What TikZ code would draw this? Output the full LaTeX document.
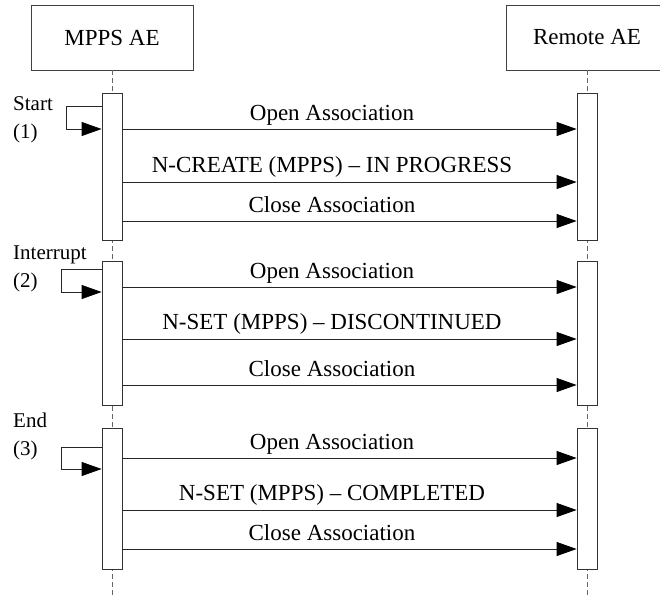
\documentclass[tikz,border=0pt]{standalone}
\usepackage{fontspec}
\setmainfont{Liberation Serif}
\usetikzlibrary{arrows.meta}
\begin{document}
\begin{tikzpicture}[x=1pt,y=-1pt,
  every node/.style={font=\fontsize{23}{27}\selectfont},
  actor/.style={draw=black!75, line width=0.8pt, minimum width=162pt, minimum height=65pt, inner sep=0},
  actbar/.style={draw=black!80, fill=white, line width=0.8pt, minimum width=20pt, inner sep=0},
  life/.style={draw=black!60, dash pattern=on 5pt off 3pt, line width=0.8pt},
  msg/.style={draw=black!85, line width=0.8pt, -{Triangle[length=20pt,width=14pt,black]}},
  msglbl/.style={anchor=base, inner sep=0},
  note/.style={align=left, anchor=north west, inner sep=0, font=\fontsize{21}{28}\selectfont}
]
\useasboundingbox (0,0) rectangle (660,598);
\clip (0,0) rectangle (660,598);
% actors
\node[actor] (L) at (112,37.5) {MPPS AE};
\node[actor] (R) at (587,37.5) {Remote AE};
\coordinate (Lend) at (112,598);
\coordinate (Rend) at (587,598);
\draw[life] (L.south) -- (Lend);
\draw[life] (R.south) -- (Rend);
% activation bars
\node[actbar, minimum height=147pt] (lb1) at (112,166.5) {};
\node[actbar, minimum height=144pt] (lb2) at (112,333) {};
\node[actbar, minimum height=141pt] (lb3) at (112,498.5) {};
\node[actbar, minimum height=147pt] (rb1) at (587,166.5) {};
\node[actbar, minimum height=144pt] (rb2) at (587,333) {};
\node[actbar, minimum height=141pt] (rb3) at (587,498.5) {};
% left notes
\node[note] (n1) at (13,96) {Start\\(1)};
\node[note] (n2) at (13,246) {Interrupt\\(2)};
\node[note] (n3) at (13,413) {End\\(3)};
% self loops
\draw[msg] (lb1.west |- 0,106) -- (66,106) -- (66,129) -- (lb1.west |- 0,129);
\draw[msg] (lb2.west |- 0,269) -- (61,269) -- (61,292) -- (lb2.west |- 0,292);
\draw[msg] (lb3.west |- 0,447) -- (61,447) -- (61,469) -- (lb3.west |- 0,469);
% block 1
\draw[msg] (lb1.east |- 0,129) -- (rb1.west |- 0,129);
\node[msglbl] (t1) at (332,120) {Open Association};
\draw[msg] (lb1.east |- 0,182) -- (rb1.west |- 0,182);
\node[msglbl] (t2) at (332,172) {N-CREATE (MPPS) – IN PROGRESS};
\draw[msg] (lb1.east |- 0,221) -- (rb1.west |- 0,221);
\node[msglbl] (t3) at (332,212) {Close Association};
% block 2
\draw[msg] (lb2.east |- 0,287) -- (rb2.west |- 0,287);
\node[msglbl] (t4) at (332,278) {Open Association};
\draw[msg] (lb2.east |- 0,339) -- (rb2.west |- 0,339);
\node[msglbl] (t5) at (332,329) {N-SET (MPPS) – DISCONTINUED};
\draw[msg] (lb2.east |- 0,385) -- (rb2.west |- 0,385);
\node[msglbl] (t6) at (332,376) {Close Association};
% block 3
\draw[msg] (lb3.east |- 0,458) -- (rb3.west |- 0,458);
\node[msglbl] (t7) at (332,449) {Open Association};
\draw[msg] (lb3.east |- 0,510) -- (rb3.west |- 0,510);
\node[msglbl] (t8) at (332,500) {N-SET (MPPS) – COMPLETED};
\draw[msg] (lb3.east |- 0,549) -- (rb3.west |- 0,549);
\node[msglbl] (t9) at (332,540) {Close Association};
\end{tikzpicture}
\end{document}
